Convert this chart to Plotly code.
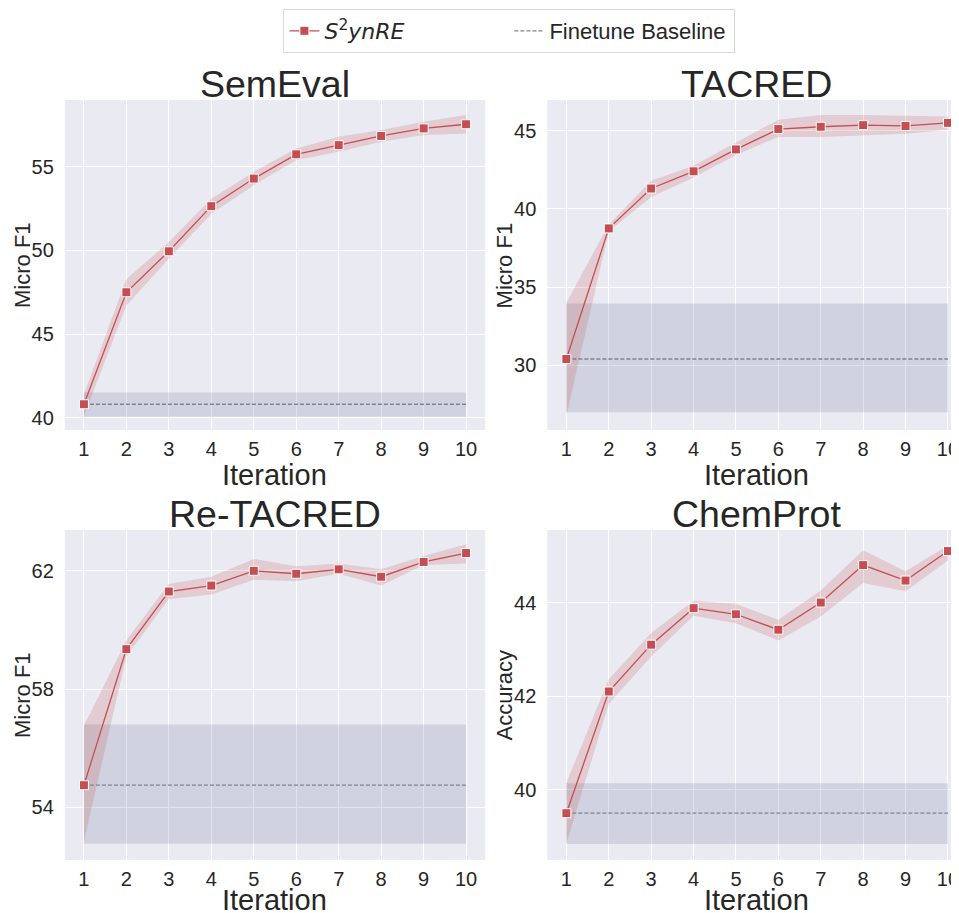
import plotly.graph_objects as go

iterations = [1, 2, 3, 4, 5, 6, 7, 8, 9, 10]
datasets = ["SemEval", "TACRED", "Re-TACRED", "ChemProt"]
y_titles = ["Micro F1", "Micro F1", "Micro F1", "Accuracy"]

semeval_mean = [40.8, 47.5, 49.95, 52.65, 54.3, 55.75, 56.3, 56.85, 57.3, 57.55]
semeval_low = [40.1, 46.7, 49.5, 52.2, 53.9, 55.4, 55.9, 56.5, 56.9, 57.0]
semeval_high = [41.4, 48.3, 50.5, 53.1, 54.7, 56.1, 56.8, 57.2, 57.7, 58.1]

tacred_mean = [30.4, 38.75, 41.3, 42.4, 43.8, 45.1, 45.25, 45.35, 45.3, 45.5]
tacred_low = [26.8, 38.55, 40.75, 42.0, 43.45, 44.6, 44.6, 44.7, 44.8, 45.05]
tacred_high = [34.0, 39.0, 41.8, 42.75, 44.25, 45.7, 46.0, 46.0, 45.95, 45.9]

retacred_mean = [54.75, 59.35, 61.3, 61.5, 62.0, 61.9, 62.05, 61.8, 62.3, 62.6]
retacred_low = [52.85, 59.1, 61.05, 61.2, 61.7, 61.65, 61.9, 61.5, 62.2, 62.25]
retacred_high = [56.75, 59.65, 61.55, 61.8, 62.4, 62.15, 62.25, 62.05, 62.5, 62.9]

chemprot_mean = [39.5, 42.1, 43.1, 43.88, 43.75, 43.42, 44.0, 44.8, 44.47, 45.1]
chemprot_low = [38.85, 41.84, 42.85, 43.72, 43.56, 43.19, 43.7, 44.42, 44.24, 44.9]
chemprot_high = [40.15, 42.36, 43.35, 44.04, 43.97, 43.63, 44.26, 45.12, 44.67, 45.22]

baseline_mean = [40.8, 30.4, 54.75, 39.5]
baseline_low = [40.05, 27.0, 52.77, 38.84]
baseline_high = [41.5, 33.95, 56.8, 40.14]

y_ranges = [[39.26, 59.0], [25.86, 46.96], [52.22, 63.38], [38.5, 45.55]]
y_dticks = [5, 5, 4, 2]
y_tick0 = [40, 30, 54, 40]

means = [semeval_mean, tacred_mean, retacred_mean, chemprot_mean]
lows = [semeval_low, tacred_low, retacred_low, chemprot_low]
highs = [semeval_high, tacred_high, retacred_high, chemprot_high]

RED = "#C44E52"
RED_FILL = "rgba(196,78,82,0.2)"
GRAY_FILL = "rgba(95,105,145,0.19)"
DASH = "#7d8396"
TXT = "#262626"
FONT = "Arial, Liberation Sans, sans-serif"

# the page body has an 8px margin: lay out in reference pixels minus that offset
OFF = 8
W, H = 959 - OFF, 913 - OFF


def px(x):
    return (x - OFF) / W


def py(y):
    return (H - (y - OFF)) / H


fig = go.Figure()

x_dom = [[px(65), px(486.7)], [px(549), 1.0]]
y_dom = [[py(430), py(100)], [py(860), py(530)]]
x_ranges = [[0.55, 10.45], [0.55, 10.19]]

main_label = ('<span style="font-family:DejaVu Sans"><i>S</i><sup>2</sup>'
              '<i>ynRE</i></span>')

for i in range(4):
    r, c = divmod(i, 2)
    n = "" if i == 0 else str(i + 1)
    xa, ya = "x" + n, "y" + n
    # baseline band
    fig.add_trace(go.Scatter(x=[iterations[0], iterations[-1]], y=[baseline_low[i]] * 2,
                             mode="lines", line=dict(width=0), hoverinfo="skip",
                             showlegend=False, xaxis=xa, yaxis=ya))
    fig.add_trace(go.Scatter(x=[iterations[0], iterations[-1]], y=[baseline_high[i]] * 2,
                             mode="lines", line=dict(width=0), fill="tonexty", fillcolor=GRAY_FILL,
                             hoverinfo="skip", showlegend=False, xaxis=xa, yaxis=ya))
    # S2ynRE band
    fig.add_trace(go.Scatter(x=iterations, y=lows[i], mode="lines", line=dict(width=0),
                             hoverinfo="skip", showlegend=False, xaxis=xa, yaxis=ya))
    fig.add_trace(go.Scatter(x=iterations, y=highs[i], mode="lines", line=dict(width=0),
                             fill="tonexty", fillcolor=RED_FILL, hoverinfo="skip",
                             showlegend=False, xaxis=xa, yaxis=ya))
    # baseline line
    fig.add_trace(go.Scatter(x=[iterations[0], iterations[-1]], y=[baseline_mean[i]] * 2,
                             mode="lines", line=dict(color=DASH, width=1.3, dash="4px,2px"),
                             name="Finetune Baseline", legendrank=2, showlegend=(i == 0),
                             xaxis=xa, yaxis=ya))
    # main line
    fig.add_trace(go.Scatter(x=iterations, y=means[i], mode="lines+markers",
                             line=dict(color=RED, width=1.3),
                             marker=dict(symbol="square", size=9, color=RED,
                                         line=dict(color="white", width=1)),
                             name=main_label, legendrank=1,
                             showlegend=(i == 0), xaxis=xa, yaxis=ya))

    axis_common = dict(showgrid=True, gridcolor="white", gridwidth=1, zeroline=False,
                       showline=False, ticks="outside", tickcolor="rgba(0,0,0,0)",
                       ticklabeloverflow="allow",
                       tickfont=dict(family=FONT, size=20, color=TXT))
    fig.layout["xaxis" + n] = dict(axis_common, domain=x_dom[c], range=x_ranges[c], ticklen=1,
                                   anchor=ya, tickmode="array", tickvals=iterations)
    fig.layout["yaxis" + n] = dict(axis_common, domain=y_dom[r], range=y_ranges[i], ticklen=6,
                                   anchor=xa, dtick=y_dticks[i], tick0=y_tick0[i])

# subplot titles and axis titles (reference pixel positions)
title_x = [275.8, 759, 275.8, 759]
title_y = [84, 84, 514, 514]
xlab_x = [275.8, 759, 275.8, 759]
xlab_y = [475, 475, 900, 900]
ylab_x = [22, 506, 22, 506]
ylab_y = [265, 265, 695, 695]
for i in range(4):
    fig.add_annotation(text=datasets[i], x=px(title_x[i]), y=py(title_y[i]),
                       xref="paper", yref="paper", showarrow=False, xanchor="center",
                       yanchor="middle", font=dict(family=FONT, size=37.5, color=TXT))
    fig.add_annotation(text="Iteration", x=px(xlab_x[i]), y=py(xlab_y[i]),
                       xref="paper", yref="paper", showarrow=False, xanchor="center",
                       yanchor="middle", font=dict(family=FONT, size=29, color=TXT))
    fig.add_annotation(text=y_titles[i], x=px(ylab_x[i]), y=py(ylab_y[i]), textangle=-90,
                       xref="paper", yref="paper", showarrow=False, xanchor="center",
                       yanchor="middle", font=dict(family=FONT, size=22, color=TXT))

fig.update_layout(
    width=W, height=H, margin=dict(l=0, r=0, t=0, b=0),
    paper_bgcolor="white", plot_bgcolor="#EAEAF2",
    font=dict(family=FONT, color=TXT),
    legend=dict(orientation="h", x=px(511), xanchor="center", y=py(9), yanchor="top",
                bordercolor="#d9d9d9", borderwidth=1, bgcolor="white",
                traceorder="normal",
                font=dict(family=FONT, size=22, color=TXT),
                entrywidthmode="pixels", entrywidth=180),
    showlegend=True,
)

fig.write_html("out.html")
